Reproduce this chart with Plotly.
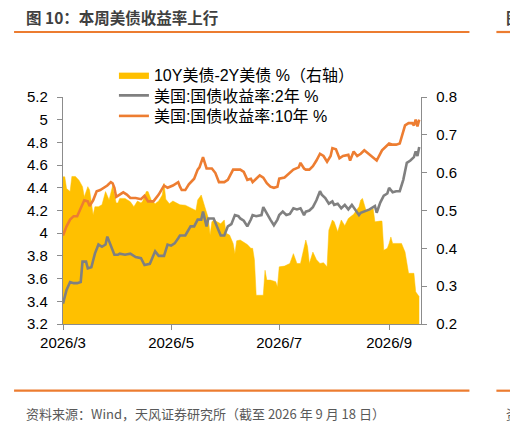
import plotly.graph_objects as go

# ---------------- data ----------------
dates_2y = ["2026-03-01","2026-03-02","2026-03-03","2026-03-05","2026-03-07","2026-03-09","2026-03-11","2026-03-12",
            "2026-03-14","2026-03-15","2026-03-17","2026-03-19","2026-03-21","2026-03-23","2026-03-25","2026-03-26",
            "2026-03-28","2026-03-30","2026-04-01","2026-04-02","2026-04-05","2026-04-08","2026-04-11","2026-04-14",
            "2026-04-16","2026-04-19","2026-04-22","2026-04-24","2026-04-27","2026-04-29","2026-05-01","2026-05-03",
            "2026-05-05","2026-05-06","2026-05-09","2026-05-12","2026-05-14","2026-05-16","2026-05-18","2026-05-19",
            "2026-05-21","2026-05-22","2026-05-25","2026-05-27","2026-05-29","2026-05-31","2026-06-02","2026-06-04",
            "2026-06-06","2026-06-08","2026-06-09","2026-06-11","2026-06-13","2026-06-15","2026-06-16","2026-06-18",
            "2026-06-21","2026-06-22","2026-06-24","2026-06-26","2026-06-28","2026-06-30","2026-07-01","2026-07-03",
            "2026-07-05","2026-07-07","2026-07-09","2026-07-11","2026-07-13","2026-07-15","2026-07-16","2026-07-18",
            "2026-07-20","2026-07-22","2026-07-24","2026-07-25","2026-07-27","2026-07-29","2026-07-31","2026-08-01",
            "2026-08-03","2026-08-05","2026-08-07","2026-08-09","2026-08-11","2026-08-13","2026-08-15","2026-08-16",
            "2026-08-18","2026-08-21","2026-08-24","2026-08-25","2026-08-27","2026-08-29","2026-08-31","2026-09-01",
            "2026-09-03","2026-09-05","2026-09-07","2026-09-09","2026-09-11","2026-09-13","2026-09-15","2026-09-16",
            "2026-09-17","2026-09-18"]
yield_2y = [3.38,3.45,3.50,3.57,3.56,3.56,3.57,3.75,
            3.75,3.69,3.70,3.82,3.90,3.88,3.90,3.97,
            3.88,3.81,3.81,3.82,3.81,3.82,3.79,3.78,
            3.72,3.73,3.84,3.80,3.80,3.90,3.89,3.91,
            3.955,3.98,3.98,4.06,4.06,4.12,4.12,4.19,
            4.06,4.13,4.13,4.06,3.98,3.98,4.06,4.08,
            4.16,4.15,4.13,4.11,4.06,4.12,4.16,4.15,
            4.16,4.23,4.17,4.12,4.07,4.12,4.16,4.19,
            4.16,4.17,4.22,4.21,4.22,4.16,4.19,4.20,
            4.23,4.29,4.37,4.34,4.31,4.26,4.28,4.25,
            4.26,4.22,4.25,4.21,4.25,4.20,4.16,4.18,
            4.19,4.21,4.24,4.18,4.27,4.33,4.35,4.40,
            4.36,4.37,4.37,4.47,4.62,4.64,4.67,4.72,
            4.68,4.76]

dates_10y = ["2026-03-01","2026-03-03","2026-03-05","2026-03-07","2026-03-09","2026-03-11","2026-03-13","2026-03-15",
             "2026-03-16","2026-03-18","2026-03-20","2026-03-22","2026-03-24","2026-03-26","2026-03-28","2026-03-29",
             "2026-03-30","2026-03-31","2026-04-02","2026-04-04","2026-04-06","2026-04-08","2026-04-11","2026-04-14",
             "2026-04-16","2026-04-18","2026-04-21","2026-04-24","2026-04-27","2026-04-29","2026-05-02","2026-05-05",
             "2026-05-06","2026-05-07","2026-05-09","2026-05-11","2026-05-14","2026-05-16","2026-05-17","2026-05-19",
             "2026-05-21","2026-05-24","2026-05-26","2026-05-28","2026-05-31","2026-06-02","2026-06-05","2026-06-08",
             "2026-06-09","2026-06-11","2026-06-13","2026-06-15","2026-06-16","2026-06-18","2026-06-20","2026-06-22",
             "2026-06-24","2026-06-26","2026-06-28","2026-06-30","2026-07-01","2026-07-04","2026-07-07","2026-07-09",
             "2026-07-12","2026-07-13","2026-07-15","2026-07-16","2026-07-18","2026-07-20","2026-07-22","2026-07-24",
             "2026-07-26","2026-07-28","2026-07-30","2026-07-31","2026-08-02","2026-08-04","2026-08-06","2026-08-09",
             "2026-08-10","2026-08-12","2026-08-14","2026-08-16","2026-08-18","2026-08-21","2026-08-25","2026-08-28",
             "2026-09-01","2026-09-03","2026-09-05","2026-09-07","2026-09-10","2026-09-12","2026-09-14","2026-09-15",
             "2026-09-16","2026-09-17","2026-09-18"]
yield_10y = [3.98,4.06,4.12,4.15,4.15,4.22,4.29,4.28,
             4.24,4.29,4.37,4.38,4.40,4.42,4.45,4.44,
             4.40,4.32,4.34,4.36,4.34,4.31,4.31,4.30,
             4.33,4.28,4.28,4.34,4.42,4.40,4.42,4.45,
             4.41,4.38,4.38,4.43,4.48,4.56,4.58,4.67,
             4.57,4.57,4.53,4.45,4.45,4.47,4.56,4.56,
             4.56,4.54,4.47,4.48,4.45,4.48,4.51,4.49,
             4.44,4.41,4.40,4.41,4.48,4.49,4.53,4.56,
             4.58,4.62,4.57,4.56,4.56,4.59,4.64,4.70,
             4.68,4.63,4.68,4.75,4.74,4.66,4.68,4.69,
             4.64,4.72,4.68,4.70,4.73,4.69,4.64,4.73,
             4.79,4.78,4.78,4.79,4.95,4.97,4.97,4.95,
             5.00,4.94,5.00]

dates_spread = ["2026-03-01","2026-03-02","2026-03-03","2026-03-05","2026-03-06","2026-03-08","2026-03-10","2026-03-12",
                "2026-03-13","2026-03-15","2026-03-16","2026-03-18","2026-03-19","2026-03-21","2026-03-23","2026-03-25",
                "2026-03-27","2026-03-29","2026-03-31","2026-04-01","2026-04-02","2026-04-05","2026-04-08","2026-04-10",
                "2026-04-12","2026-04-14","2026-04-15","2026-04-17","2026-04-18","2026-04-20","2026-04-22","2026-04-24",
                "2026-04-26","2026-04-27","2026-04-28","2026-04-30","2026-05-02","2026-05-05","2026-05-06","2026-05-09",
                "2026-05-12","2026-05-15","2026-05-16","2026-05-18","2026-05-20","2026-05-22","2026-05-23","2026-05-24",
                "2026-05-25","2026-05-27","2026-05-29","2026-05-31","2026-06-01","2026-06-03","2026-06-05","2026-06-06",
                "2026-06-07","2026-06-09","2026-06-11","2026-06-13","2026-06-15","2026-06-16","2026-06-17","2026-06-18",
                "2026-06-20","2026-06-22","2026-06-23","2026-06-24","2026-06-26","2026-06-28","2026-06-29","2026-06-30",
                "2026-07-01","2026-07-04","2026-07-07","2026-07-09","2026-07-11","2026-07-13","2026-07-15","2026-07-16",
                "2026-07-17","2026-07-18","2026-07-20","2026-07-22","2026-07-24","2026-07-26","2026-07-28","2026-07-29",
                "2026-07-31","2026-08-01","2026-08-03","2026-08-05","2026-08-07","2026-08-09","2026-08-12","2026-08-15",
                "2026-08-16","2026-08-17","2026-08-19","2026-08-21","2026-08-23","2026-08-24","2026-08-27","2026-08-28",
                "2026-08-29","2026-08-31","2026-09-01","2026-09-02","2026-09-03","2026-09-05","2026-09-08","2026-09-10",
                "2026-09-12","2026-09-15","2026-09-16","2026-09-18"]
spread = [0.589,0.589,0.558,0.550,0.590,0.590,0.580,0.563,
          0.536,0.563,0.554,0.488,0.510,0.510,0.515,0.550,
          0.528,0.565,0.520,0.520,0.532,0.532,0.523,0.510,
          0.525,0.520,0.525,0.550,0.550,0.525,0.518,0.525,
          0.541,0.572,0.530,0.518,0.525,0.519,0.515,0.514,
          0.506,0.500,0.528,0.541,0.510,0.480,0.435,0.470,
          0.475,0.470,0.465,0.475,0.440,0.435,0.413,0.386,
          0.420,0.422,0.415,0.410,0.400,0.400,0.370,0.276,
          0.276,0.276,0.342,0.316,0.316,0.313,0.312,0.298,
          0.351,0.353,0.360,0.386,0.360,0.360,0.404,0.422,
          0.404,0.360,0.390,0.370,0.360,0.362,0.351,0.448,
          0.475,0.470,0.444,0.475,0.460,0.479,0.490,0.510,
          0.528,0.532,0.500,0.500,0.505,0.470,0.472,0.472,
          0.395,0.400,0.413,0.430,0.413,0.413,0.413,0.390,
          0.334,0.334,0.285,0.272]

x_tickvals = ["2026-03-01", "2026-05-01", "2026-07-01", "2026-09-01"]
x_ticktext = ["2026/3", "2026/5", "2026/7", "2026/9"]
left_ticks = [3.2, 3.4, 3.6, 3.8, 4.0, 4.2, 4.4, 4.6, 4.8, 5.0, 5.2]
left_labels = ["3.2", "3.4", "3.6", "3.8", "4", "4.2", "4.4", "4.6", "4.8", "5", "5.2"]
right_ticks = [0.2, 0.3, 0.4, 0.5, 0.6, 0.7, 0.8]
right_labels = ["0.2", "0.3", "0.4", "0.5", "0.6", "0.7", "0.8"]

name_spread = "10Y美债-2Y美债 %（右轴）"
name_2y = "美国:国债收益率:2年 %"
name_10y = "美国:国债收益率:10年 %"
title_text = "图 10：本周美债收益率上行"
source_text = "资料来源：Wind，天风证券研究所（截至 2026 年 9 月 18 日）"

# ---------------- layout geometry (pixels) ----------------
W, H = 510, 426
L, R, T, B = 63, 421.5, 97, 324

def px_x(x):
    return (x - L) / (R - L)

def px_y(y):
    return (B - y) / (B - T)

FONT = "Liberation Sans, Arial, Noto Sans CJK SC, sans-serif"
CJK = "Noto Sans CJK SC, Liberation Sans, sans-serif"
LEG = "Liberation Sans, Noto Sans CJK SC, sans-serif"
AXC = "#8c8c8c"
ORANGE_RULE = "#EC7C30"

fig = go.Figure()
fig.add_trace(go.Scatter(x=dates_spread, y=spread, name=name_spread, mode="lines",
                         fill="tozeroy", fillcolor="#FFC000", legend="legend",
                         line=dict(color="#FFC000", width=0.5), yaxis="y"))
fig.add_trace(go.Scatter(x=dates_2y, y=yield_2y, name=name_2y, mode="lines", legend="legend2",
                         line=dict(color="#808080", width=2.6), yaxis="y2"))
fig.add_trace(go.Scatter(x=dates_10y, y=yield_10y, name=name_10y, mode="lines", legend="legend3",
                         line=dict(color="#ED7D31", width=2.6), yaxis="y2"))

axis_common = dict(showgrid=False, zeroline=False, showline=True, linecolor=AXC, linewidth=1.3,
                   ticks="outside", ticklen=5, tickwidth=1.3, tickcolor=AXC,
                   tickfont=dict(family=FONT, size=15, color="#000000"))

def legend_at(yc):
    return dict(x=px_x(114), y=px_y(yc), xanchor="left", yanchor="middle",
                bgcolor="rgba(0,0,0,0)", font=dict(family=LEG, size=16, color="#000000"),
                itemwidth=30)

fig.update_layout(
    width=W, height=H,
    margin=dict(l=L, r=W - R, t=T, b=H - B, autoexpand=False),
    paper_bgcolor="white", plot_bgcolor="white",
    showlegend=True,
    legend=legend_at(75),
    legend2=legend_at(95.5),
    legend3=legend_at(116),
    xaxis=dict(type="date", range=["2026-03-01", "2026-09-19"], tickvals=x_tickvals,
               ticktext=x_ticktext, ticklabelstandoff=0, **axis_common),
    yaxis=dict(side="right", range=[0.2, 0.8], tickvals=right_ticks, ticktext=right_labels,
               ticklabelstandoff=6, **axis_common),
    yaxis2=dict(side="left", overlaying="y", range=[3.2, 5.2], tickvals=left_ticks,
                ticktext=left_labels, ticklabelstandoff=6, **axis_common),
)

# title and source
fig.add_annotation(text="<b>" + title_text + "</b>", xref="paper", yref="paper",
                   x=px_x(24), y=px_y(17), xanchor="left", yanchor="middle", showarrow=False,
                   font=dict(family=CJK, size=15.5, color="#404040"))
fig.add_annotation(text=source_text, xref="paper", yref="paper",
                   x=px_x(24), y=px_y(413), xanchor="left", yanchor="middle", showarrow=False,
                   font=dict(family=CJK, size=13, color="#595959"))
# fragments of the neighbouring panel at the right edge (cut off, as in the source page)
fig.add_annotation(text="<b>图</b>", xref="paper", yref="paper",
                   x=px_x(505), y=px_y(17), xanchor="left", yanchor="middle", showarrow=False,
                   font=dict(family=CJK, size=15.5, color="#404040"))
fig.add_annotation(text="资", xref="paper", yref="paper",
                   x=px_x(505), y=px_y(413), xanchor="left", yanchor="middle", showarrow=False,
                   font=dict(family=CJK, size=13, color="#595959"))

# orange rules
for (x0, x1) in [(14, 470), (497, 512)]:
    for yy in (32, 390.7):
        fig.add_shape(type="line", xref="paper", yref="paper",
                      x0=px_x(x0), x1=px_x(x1), y0=px_y(yy), y1=px_y(yy),
                      line=dict(color=ORANGE_RULE, width=2.2))

fig.write_html("out.html")
